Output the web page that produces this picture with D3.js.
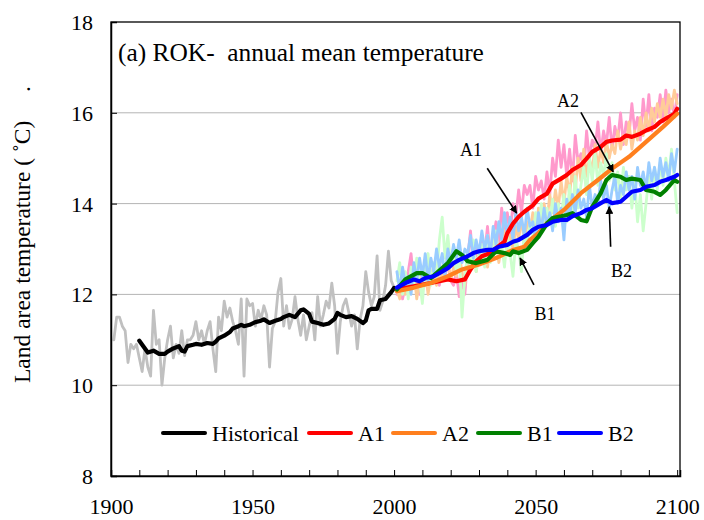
<!DOCTYPE html>
<html><head><meta charset="utf-8">
<script src="https://cdn.jsdelivr.net/npm/d3@7"></script>
<style>
html,body{margin:0;padding:0;background:#fff;}
svg{display:block;}
text{font-family:"Liberation Serif","Times New Roman",serif;fill:#000;}
</style></head><body>
<svg id="chart" width="704" height="520"></svg>
<script>
// ---------- DATA ----------
const yTicks = [8, 10, 12, 14, 16, 18];
const xTickLabels = [1900, 1950, 2000, 2050, 2100];
const legendNames = ["Historical", "A1", "A2", "B1", "B2"];

// observed annual (gray), starting 1901
const histAnnualStart = 1901;
const histAnnual = [11.0,11.5,11.5,11.3,11.2,10.5,10.9,10.8,10.9,10.6,10.3,10.8,10.4,10.2,11.65,10.9,11.0,10.0,10.6,11.0,
11.3,10.6,10.9,10.7,11.2,10.65,11.0,11.0,11.1,11.4,11.0,11.2,10.9,11.2,11.4,10.8,10.3,11.5,11.2,11.85,
11.5,11.7,11.4,11.2,10.9,11.9,10.2,11.9,11.75,11.8,11.3,11.65,11.45,11.75,11.55,10.4,11.25,11.4,12.05,12.35,
11.3,11.75,11.25,11.45,11.95,11.45,11.1,11.55,11.0,11.3,11.6,11.0,11.95,11.3,11.55,11.85,11.7,12.25,11.75,10.7,
11.4,11.75,11.9,11.6,11.3,11.55,10.8,11.45,11.75,12.5,12.05,11.75,11.95,12.85,11.65,11.85,12.2,12.95,12.3,12.15];

// observed smoothed (black)
const histSmooth = [[1910,10.98],[1913,10.72],[1915,10.76],[1917,10.69],[1919,10.69],[1920,10.74],[1922,10.81],[1924,10.86],
[1925,10.76],[1926,10.74],[1927,10.86],[1929,10.89],[1930,10.91],[1932,10.89],[1934,10.93],[1936,10.91],[1937,10.96],
[1938,11.03],[1940,11.09],[1942,11.17],[1943,11.25],[1945,11.30],[1946,11.33],[1947,11.30],[1949,11.33],[1951,11.39],
[1953,11.42],[1954,11.45],[1956,11.37],[1958,11.42],[1960,11.46],[1961,11.50],[1963,11.55],[1965,11.50],[1967,11.65],
[1968,11.67],[1970,11.57],[1971,11.40],[1973,11.37],[1975,11.33],[1977,11.36],[1979,11.46],[1980,11.59],[1981,11.55],
[1983,11.50],[1985,11.52],[1987,11.46],[1989,11.37],[1990,11.42],[1991,11.65],[1992,11.68],[1994,11.68],[1995,11.87],
[1997,11.90],[1999,12.05],[2000,12.14]];

// scenario annual (pale), starting 2001
const scenStart = 2001;
const a1Annual = [12.0,12.3,11.9,12.2,12.5,12.9,12.2,12.4,12.0,12.6,12.3,12.1,12.5,12.3,12.6,12.2,12.5,12.4,12.7,12.3,
12.2,12.5,11.95,12.3,12.0,12.8,13.4,12.6,13.0,12.7,13.3,12.9,13.5,12.8,13.2,13.6,13.1,13.9,13.4,13.8,
13.3,14.0,13.7,14.3,13.8,14.4,14.2,14.4,13.9,14.6,14.3,14.5,14.1,14.7,14.2,15.0,14.6,15.4,14.8,15.3,
14.6,15.2,14.5,15.5,14.9,15.1,14.7,15.6,15.0,15.4,15.2,15.8,15.1,15.6,15.3,15.9,15.2,15.7,15.4,16.0,
15.3,15.8,15.5,16.2,15.6,15.9,15.4,16.3,15.7,16.4,15.6,16.1,15.9,16.4,15.8,16.5,16.0,16.3,15.9,16.4];
const a2Annual = [12.1,11.9,12.4,12.0,12.3,12.1,12.5,11.9,12.3,12.2,12.6,12.0,12.4,12.6,12.2,12.7,12.3,12.5,12.8,12.3,
12.6,12.4,12.9,12.5,12.2,12.8,12.6,13.0,12.5,12.9,12.7,13.1,12.6,13.0,12.8,13.2,12.7,13.1,13.4,12.9,
13.3,13.0,13.5,13.2,13.7,13.1,13.6,13.4,13.8,13.3,13.9,13.5,14.0,13.6,14.2,13.8,14.3,13.9,14.5,14.0,
14.6,14.2,14.8,14.3,15.0,14.5,15.2,14.6,15.0,14.7,15.3,14.8,15.2,14.9,15.4,15.0,15.3,15.1,15.6,15.2,
15.5,15.3,15.8,15.2,15.6,15.4,15.9,15.5,16.0,15.6,16.1,15.8,16.2,15.9,16.3,15.9,16.4,16.1,16.5,16.2];
const b1Annual = [12.3,12.7,12.0,12.5,11.9,12.6,12.2,12.8,12.3,11.8,12.6,12.9,12.2,12.7,12.4,13.2,13.7,12.8,13.3,12.6,
13.0,12.5,12.9,11.5,12.4,12.9,12.6,13.2,12.5,12.9,13.1,12.6,13.3,12.7,13.0,13.4,12.8,13.1,12.6,13.3,
12.9,12.4,13.2,13.0,12.5,13.4,13.1,13.6,13.3,13.8,13.4,14.0,13.5,13.9,13.6,14.1,13.5,14.0,13.7,14.2,
13.6,14.4,13.8,14.6,13.9,14.4,14.8,14.2,15.0,14.5,15.1,14.4,14.9,14.6,15.1,14.5,14.9,14.3,14.7,14.1,
14.8,14.3,14.6,13.9,14.5,13.6,14.2,13.4,14.0,14.6,14.1,14.8,14.3,14.9,14.4,15.0,14.6,15.2,14.5,13.8];
const b2Annual = [12.5,12.1,12.6,12.2,12.4,12.0,12.7,12.3,12.8,12.4,12.9,12.3,12.8,12.5,13.0,12.6,12.9,12.4,13.0,12.7,
13.1,12.8,13.2,12.7,13.0,12.9,13.3,12.8,13.2,12.9,13.4,13.0,13.3,12.9,13.5,13.1,13.6,13.2,13.8,13.3,
13.7,13.2,13.8,13.4,13.7,13.3,13.9,13.5,13.6,13.2,13.8,13.4,13.9,13.5,13.8,13.4,14.0,13.6,13.9,13.2,
14.1,13.7,14.2,13.8,14.3,13.9,14.1,13.7,14.4,13.9,14.2,14.0,14.5,14.1,14.4,13.9,14.3,14.6,14.0,14.4,
14.2,14.7,14.3,14.6,14.1,14.8,14.4,14.7,14.3,14.9,14.5,14.8,14.4,15.0,14.6,14.9,14.5,15.1,14.7,15.2];

// scenario smoothed (bold)
const a1Smooth = [[2001,12.11],[2007,12.18],[2013,12.25],[2019,12.33],[2022,12.29],[2025,12.33],[2027,12.55],[2029,12.73],
[2031,12.84],[2034,12.91],[2036,13.02],[2039,13.16],[2040,13.35],[2042,13.56],[2044,13.71],[2046,13.82],[2049,13.96],
[2051,14.11],[2054,14.22],[2056,14.44],[2059,14.55],[2061,14.63],[2063,14.74],[2066,14.85],[2068,14.99],[2070,15.14],
[2073,15.25],[2075,15.36],[2077,15.39],[2080,15.41],[2082,15.50],[2084,15.47],[2087,15.54],[2089,15.61],[2092,15.69],
[2094,15.80],[2096,15.87],[2099,15.98],[2100,16.09]];
const a2Smooth = [[2001,12.07],[2007,12.15],[2013,12.25],[2019,12.40],[2024,12.55],[2030,12.66],[2036,12.80],[2042,12.98],
[2046,13.05],[2048,13.20],[2051,13.35],[2054,13.57],[2060,13.86],[2066,14.23],[2072,14.52],[2077,14.77],[2083,15.03],
[2089,15.36],[2095,15.69],[2100,15.98]];
const b1Smooth = [[2001,12.11],[2004,12.33],[2008,12.47],[2010,12.47],[2013,12.36],[2015,12.47],[2019,12.69],[2022,12.95],
[2024,12.87],[2026,12.73],[2029,12.69],[2033,12.76],[2036,12.95],[2039,12.91],[2041,12.87],[2042,12.95],[2044,12.91],
[2047,12.98],[2049,13.13],[2051,13.27],[2054,13.56],[2056,13.68],[2059,13.72],[2061,13.75],[2063,13.79],[2066,13.64],
[2068,13.61],[2070,13.93],[2073,14.23],[2075,14.52],[2077,14.63],[2080,14.59],[2082,14.52],[2084,14.55],[2087,14.52],
[2089,14.30],[2092,14.26],[2094,14.19],[2096,14.30],[2099,14.52],[2100,14.48]];
const b2Smooth = [[2001,12.15],[2004,12.25],[2007,12.33],[2009,12.29],[2011,12.36],[2014,12.40],[2016,12.47],[2019,12.58],
[2021,12.69],[2023,12.76],[2026,12.84],[2028,12.91],[2030,12.95],[2033,12.98],[2035,12.98],[2037,13.05],[2040,13.09],
[2042,13.16],[2044,13.20],[2047,13.31],[2049,13.42],[2051,13.49],[2054,13.53],[2056,13.60],[2059,13.64],[2061,13.64],
[2063,13.72],[2066,13.79],[2068,13.86],[2070,13.90],[2073,14.01],[2075,14.08],[2077,14.01],[2080,14.04],[2082,14.15],
[2084,14.26],[2087,14.30],[2089,14.37],[2092,14.41],[2094,14.48],[2096,14.52],[2099,14.59],[2100,14.63]];

// annotations: label, label baseline position (year,value), arrow from (year,value) to (year,value)
const annoLabels = ["A1", "A2", "B1", "B2"];
const annoText = [[2027.2, 15.05], [2061.4, 16.13], [2053.3, 11.44], [2080.3, 12.38]];
const annoFrom = [[2032.9, 14.78], [2066.0, 16.01], [2049.4, 12.21], [2076.5, 13.05]];
const annoTo = [[2043.3, 13.79], [2077.4, 14.70], [2044.5, 12.80], [2076.0, 13.93]];

// ---------- CHART ----------
const svg = d3.select("#chart");
const L = 111, R = 680, T = 22, B = 476;
const x = d3.scaleLinear().domain([1900, 2101]).range([L, R]);
const y = d3.scaleLinear().domain([8, 18]).range([B, T]);

const colors = {hist:"#000000", a1:"#ff0000", a2:"#ff7f1e", b1:"#008000", b2:"#0000ff",
  histL:"#c0c0c0", a1L:"#ff99cc", a2L:"#ffcc99", b1L:"#ccffcc", b2L:"#99ccff"};

// gridlines
svg.append("g").selectAll("line").data(yTicks.filter(v => v > 8 && v < 18)).join("line")
  .attr("x1", L).attr("x2", R).attr("y1", d => y(d)).attr("y2", d => y(d))
  .attr("stroke", "#b4b4b4").attr("stroke-width", 1);

const line = d3.line().x(d => x(d[0])).y(d => y(d[1]));
const annual = (start, vals) => vals.map((v, i) => [start + i, v]);

function drawLine(data, color, w) {
  svg.append("path").datum(data).attr("d", line)
    .attr("fill", "none").attr("stroke", color).attr("stroke-width", w)
    .attr("stroke-linejoin", "round").attr("stroke-linecap", "round");
}

drawLine(annual(histAnnualStart, histAnnual), colors.histL, 2.8);
drawLine(annual(scenStart, a1Annual), colors.a1L, 2.8);
drawLine(annual(scenStart, a2Annual), colors.a2L, 2.8);
drawLine(annual(scenStart, b1Annual), colors.b1L, 2.8);
drawLine(annual(scenStart, b2Annual), colors.b2L, 2.8);
drawLine(histSmooth, colors.hist, 4.2);
drawLine(a1Smooth, colors.a1, 4.2);
drawLine(a2Smooth, colors.a2, 4.2);
drawLine(b1Smooth, colors.b1, 4.2);
drawLine(b2Smooth, colors.b2, 4.2);

// frame
svg.append("rect").attr("x", L).attr("y", T).attr("width", R - L).attr("height", B - T)
  .attr("fill", "none").attr("stroke", "#000").attr("stroke-width", 1.3);

// axes (ticks inward)
const yAxis = d3.axisLeft(y).tickValues(yTicks).tickSize(-6).tickPadding(18).tickFormat(d3.format("d"));
const gy = svg.append("g").attr("transform", `translate(${L},0)`).call(yAxis);
gy.select(".domain").attr("stroke-width", 1.5);
gy.selectAll("text").attr("font-size", 22).attr("font-family", "Liberation Serif").attr("dy", "0.34em");

const xAxis = d3.axisBottom(x).tickValues(d3.range(1900, 2101, 10)).tickSize(-6).tickPadding(22)
  .tickFormat(d => xTickLabels.includes(d) ? d : "");
const gx = svg.append("g").attr("transform", `translate(0,${B})`).call(xAxis);
gx.select(".domain").attr("stroke-width", 1.5);
gx.selectAll("text").attr("font-size", 22).attr("font-family", "Liberation Serif");

// title
svg.append("text").attr("x", 118).attr("y", 61).attr("font-size", 25.4).text("(a) ROK-  annual mean temperature")
  .style("white-space", "pre");

// y label
svg.append("text").attr("transform", "translate(30,383) rotate(-90)").attr("font-size", 23.5)
  .style("white-space", "pre").text("Land area temperature ( \u02DAC)");
svg.append("text").attr("transform", "translate(30,92) rotate(-90)").attr("font-size", 23.5).text(".");

// legend
const legColors = [colors.hist, colors.a1, colors.a2, colors.b1, colors.b2];
const legX = [163, 309, 393, 478, 559];
const lg = svg.append("g");
legendNames.forEach((n, i) => {
  lg.append("line").attr("x1", legX[i]).attr("x2", legX[i] + 42).attr("y1", 433).attr("y2", 433)
    .attr("stroke", legColors[i]).attr("stroke-width", 4).attr("stroke-linecap", "round");
  lg.append("text").attr("x", legX[i] + 49).attr("y", 441).attr("font-size", 22).text(n);
});

// annotations
svg.append("defs").append("marker").attr("id", "ah").attr("viewBox", "0 0 10 10")
  .attr("refX", 9).attr("refY", 5).attr("markerWidth", 8).attr("markerHeight", 8)
  .attr("markerUnits", "userSpaceOnUse").attr("orient", "auto")
  .append("path").attr("d", "M0,0 L10,5 L0,10 z").attr("fill", "#000");
annoLabels.forEach((lab, i) => {
  svg.append("line").attr("x1", x(annoFrom[i][0])).attr("y1", y(annoFrom[i][1]))
    .attr("x2", x(annoTo[i][0])).attr("y2", y(annoTo[i][1]))
    .attr("stroke", "#000").attr("stroke-width", 1.6).attr("marker-end", "url(#ah)");
  svg.append("text").attr("x", x(annoText[i][0])).attr("y", y(annoText[i][1]))
    .attr("text-anchor", "middle").attr("font-size", 18).text(lab);
});
</script></body></html>
